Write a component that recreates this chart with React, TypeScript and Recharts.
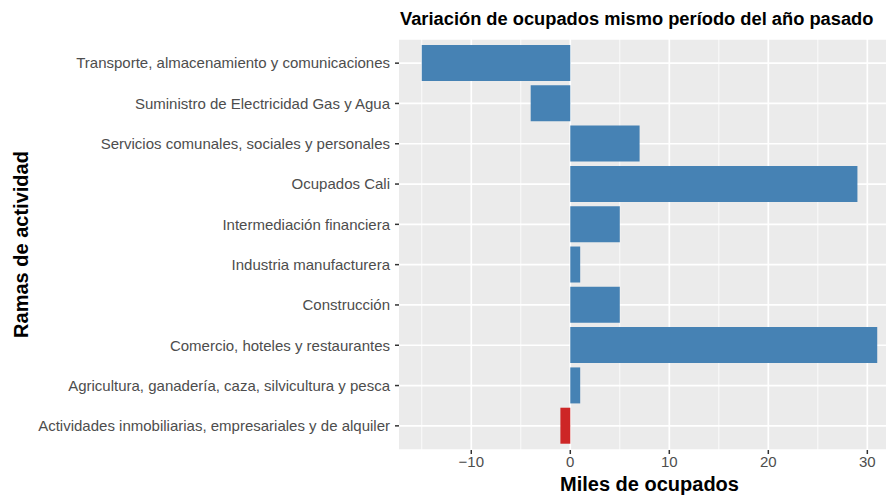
import { BarChart, Bar, XAxis, YAxis, CartesianGrid, Cell, Label } from 'recharts';

// Ramas de actividad, de arriba hacia abajo
const RAMAS = [
  'Transporte, almacenamiento y comunicaciones',
  'Suministro de Electricidad Gas y Agua',
  'Servicios comunales, sociales y personales',
  'Ocupados Cali',
  'Intermediación financiera',
  'Industria manufacturera',
  'Construcción',
  'Comercio, hoteles y restaurantes',
  'Agricultura, ganadería, caza, silvicultura y pesca',
  'Actividades inmobiliarias, empresariales y de alquiler',
];

// variación en miles de ocupados
const VARIACION = [-15, -4, 7, 29, 5, 1, 5, 31, 1, -1];

const DESTACADA = 'Actividades inmobiliarias, empresariales y de alquiler';

const MAJOR_TICKS = [-10, 0, 10, 20, 30];
const MINOR_TICKS = [-15, -5, 5, 15, 25];

const data = RAMAS.map((rama, i) => ({ rama, valor: VARIACION[i] }));

const FONT = '"Liberation Sans", Arial, Helvetica, sans-serif';

export default function App() {
  return (
    <div style={{ position: 'absolute', left: 0, top: 0, width: 886, height: 496, overflow: 'hidden', background: '#fff', fontFamily: FONT }}>
      <div
        style={{
          position: 'absolute',
          left: 400,
          top: 9,
          fontSize: 18.3,
          fontWeight: 'bold',
          color: '#000',
          whiteSpace: 'nowrap',
          lineHeight: '20px',
        }}
      >
        Variación de ocupados mismo período del año pasado
      </div>
      <BarChart
        width={900}
        height={496}
        data={data}
        layout="vertical"
        margin={{ top: 39, right: 0, bottom: 0, left: 0 }}
        barCategoryGap="5%"
      >
        <CartesianGrid
          fill="#EBEBEB"
          stroke="#FFFFFF"
          strokeWidth={0.8}
          horizontal={false}
          verticalValues={MINOR_TICKS}
        />
        <CartesianGrid stroke="#FFFFFF" strokeWidth={1.7} verticalValues={MAJOR_TICKS} />
        <XAxis
          type="number"
          domain={[-17.3, 33.3]}
          ticks={MAJOR_TICKS}
          allowDataOverflow
          height={46}
          axisLine={false}
          tickSize={4}
          tickMargin={2}
          tickLine={{ stroke: '#333333', strokeWidth: 1.5 }}
          tick={{ fill: '#4D4D4D', fontSize: 15, fontFamily: FONT }}
          tickFormatter={(v: number) => String(v).replace('-', '\u2212')}
        >
          <Label
            content={() => (
              <text x={649.5} y={491} textAnchor="middle" fontSize={20} fontWeight="bold" fontFamily={FONT} fill="#000">
                Miles de ocupados
              </text>
            )}
          />
        </XAxis>
        <YAxis
          type="category"
          dataKey="rama"
          width={399}
          interval={0}
          padding={{ top: 4, bottom: 4 }}
          axisLine={false}
          tickSize={4}
          tickMargin={5}
          tickLine={{ stroke: '#333333', strokeWidth: 1.5 }}
          tick={{ fill: '#4D4D4D', fontSize: 15, fontFamily: FONT }}
        >
          <Label
            content={() => (
              <text
                x={28}
                y={244.5}
                transform="rotate(-90 28 244.5)"
                textAnchor="middle"
                fontSize={20}
                fontWeight="bold"
                fontFamily={FONT}
                fill="#000"
              >
                Ramas de actividad
              </text>
            )}
          />
        </YAxis>
        <Bar dataKey="valor" isAnimationActive={false}>
          {data.map((d) => (
            <Cell key={d.rama} fill={d.rama === DESTACADA ? '#CD2626' : '#4682B4'} />
          ))}
        </Bar>
      </BarChart>
    </div>
  );
}
